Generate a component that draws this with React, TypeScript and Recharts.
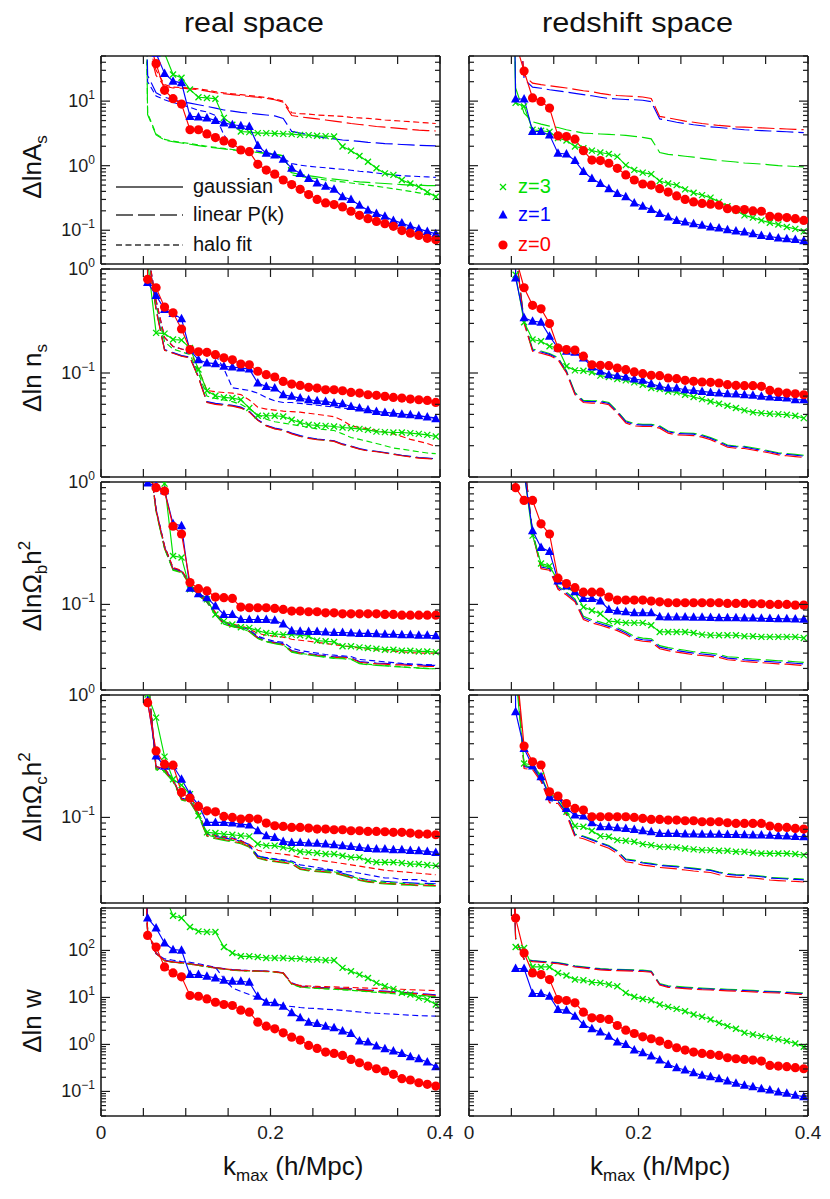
import React from 'react';
import { LineChart, Line, XAxis, YAxis } from 'recharts';

const FONT = '"Liberation Sans", Arial, Helvetica, sans-serif';
const RED = '#ff0000';
const BLUE = '#0000ff';
const GREEN = '#00e000';
const INK = '#1c1c1c';

// k_max grid (h/Mpc); the first entry is where each curve enters from off-scale
const K = [0.052, 0.055, 0.065, 0.075, 0.085, 0.095, 0.105, 0.115, 0.125, 0.135, 0.145, 0.155, 0.165, 0.175, 0.185, 0.195, 0.205, 0.215, 0.225, 0.235, 0.245, 0.255, 0.265, 0.275, 0.285, 0.295, 0.305, 0.315, 0.325, 0.335, 0.345, 0.355, 0.365, 0.375, 0.385, 0.395];

const X_TICKS = [0, 0.05, 0.1, 0.15, 0.2, 0.25, 0.3, 0.35, 0.4];
const X_LABELS = [0, 0.2, 0.4];
const Y_DOMAINS = [[0.03, 50], [0.01, 1], [0.02, 1], [0.02, 1], [0.03, 800]];
const Y_LABELS = [[0.1, 1, 10], [0.1, 1], [0.1, 1], [0.1, 1], [0.1, 1, 10, 100]];

// ---- ΔlnA_s, real space
const asRG0 = [1e4, 100, 38, 14.7, 10.9, 9.0, 3.6, 3.6, 3.1, 2.73, 2.42, 2.23, 1.75, 1.65, 1.05, 0.855, 0.74, 0.6, 0.51, 0.43, 0.357, 0.3, 0.265, 0.25, 0.23, 0.197, 0.17, 0.151, 0.137, 0.126, 0.115, 0.099, 0.09, 0.083, 0.075, 0.071];
const asRG1 = [1e4, 200, 55, 26.8, 20.4, 19.2, 5.8, 5.7, 5.5, 5.0, 4.6, 4.3, 4.15, 4.05, 2.05, 1.56, 1.47, 1.26, 0.91, 0.76, 0.635, 0.54, 0.48, 0.43, 0.33, 0.3, 0.244, 0.204, 0.181, 0.164, 0.142, 0.129, 0.115, 0.105, 0.096, 0.088];
const asRG3 = [1e4, 300, 90, 55, 25.9, 23, 15.1, 11.5, 11.2, 10.9, 5.5, 4.3, 3.39, 3.31, 3.19, 3.19, 3.15, 3.11, 3.08, 3.0, 2.97, 2.9, 2.87, 2.83, 1.98, 1.71, 1.41, 1.15, 0.91, 0.76, 0.72, 0.6, 0.53, 0.47, 0.39, 0.33];
const asRL0 = [1e4, 80, 25, 17, 16, 15.8, 15.5, 15, 14.3, 13.5, 13, 12.6, 12.2, 11.8, 11.5, 11, 10.5, 9.6, 6.0, 5.7, 5.5, 5.3, 5.1, 4.9, 4.7, 4.5, 4.35, 4.2, 4.05, 3.95, 3.85, 3.75, 3.65, 3.55, 3.5, 3.45];
const asRL1 = [1e4, 25, 13.5, 11.5, 10.5, 9.8, 9.3, 8.8, 8.3, 7.8, 7.3, 7.0, 6.7, 6.5, 6.3, 6.1, 5.9, 5.4, 3.4, 3.2, 3.0, 2.85, 2.7, 2.6, 2.5, 2.45, 2.38, 2.3, 2.25, 2.2, 2.17, 2.13, 2.1, 2.07, 2.05, 2.03];
const asRL3 = [1e4, 6.2, 3.0, 2.5, 2.35, 2.25, 2.15, 2.05, 1.95, 1.88, 1.82, 1.76, 1.7, 1.65, 1.6, 1.55, 1.5, 1.42, 0.78, 0.73, 0.7, 0.67, 0.64, 0.62, 0.6, 0.58, 0.56, 0.55, 0.54, 0.53, 0.52, 0.51, 0.5, 0.5, 0.49, 0.49];
const asRH0 = [1e4, 90, 30, 18, 16.5, 16.2, 16, 15.5, 14.8, 14, 13.4, 13, 12.6, 12.2, 11.8, 11.3, 10.8, 10, 6.6, 6.4, 6.3, 6.1, 6.0, 5.9, 5.8, 5.6, 5.5, 5.4, 5.25, 5.1, 5.0, 4.9, 4.8, 4.7, 4.6, 4.5];
const asRH1 = [1e4, 20, 12, 10.5, 9.5, 8.8, 8.0, 7.2, 6.8, 6.0, 3.0, 1.95, 1.85, 1.75, 1.68, 1.6, 1.5, 1.3, 1.08, 1.02, 0.98, 0.95, 0.93, 0.9, 0.88, 0.85, 0.82, 0.8, 0.77, 0.74, 0.72, 0.7, 0.69, 0.68, 0.67, 0.66];
const asRH3 = [1e4, 6.5, 3.1, 2.55, 2.4, 2.3, 2.2, 2.1, 2.0, 1.92, 1.85, 1.78, 1.72, 1.66, 1.61, 1.56, 1.51, 1.43, 0.72, 0.68, 0.65, 0.63, 0.6, 0.58, 0.56, 0.54, 0.52, 0.5, 0.48, 0.46, 0.44, 0.42, 0.4, 0.38, 0.36, 0.34];

// ---- ΔlnA_s, redshift space
const asZG0 = [1e4, 80, 29.2, 11.2, 9.9, 7.8, 2.9, 2.83, 2.57, 1.71, 1.22, 1.2, 1.09, 0.91, 0.72, 0.6, 0.52, 0.5, 0.44, 0.39, 0.34, 0.3, 0.275, 0.26, 0.253, 0.244, 0.216, 0.209, 0.209, 0.199, 0.197, 0.164, 0.16, 0.157, 0.151, 0.142];
const asZG1 = [1e4, 10.8, 10.8, 3.39, 3.39, 3.0, 1.56, 1.52, 1.2, 0.81, 0.635, 0.53, 0.44, 0.37, 0.33, 0.265, 0.235, 0.209, 0.181, 0.16, 0.142, 0.134, 0.126, 0.119, 0.112, 0.108, 0.102, 0.097, 0.094, 0.088, 0.083, 0.08, 0.076, 0.074, 0.072, 0.069];
const asZG3 = [1e4, 9.4, 8.3, 3.6, 3.47, 3.35, 2.67, 2.45, 1.98, 1.86, 1.71, 1.6, 1.52, 1.38, 1.02, 0.86, 0.78, 0.74, 0.58, 0.53, 0.5, 0.43, 0.38, 0.35, 0.32, 0.275, 0.235, 0.204, 0.17, 0.157, 0.142, 0.131, 0.123, 0.112, 0.105, 0.096];
const asZL0 = [1e4, 1e3, 25, 19, 18, 17.3, 16.6, 16, 15.2, 14.5, 14, 13.2, 12.6, 12.2, 12, 11.8, 11.6, 11, 5.8, 5.5, 5.2, 4.9, 4.7, 4.5, 4.35, 4.2, 4.1, 4.0, 3.95, 3.9, 3.85, 3.8, 3.75, 3.7, 3.65, 3.6];
const asZL1 = [1e4, 1e3, 22, 16.5, 15.8, 15, 14.4, 13.8, 13.2, 12.6, 12.1, 11.5, 11, 10.8, 10.6, 10.5, 10.3, 9.8, 5.3, 5.0, 4.7, 4.5, 4.3, 4.15, 4.0, 3.9, 3.8, 3.7, 3.6, 3.55, 3.5, 3.45, 3.4, 3.35, 3.3, 3.25];
const asZL3 = [1e4, 16, 6.5, 4.8, 4.4, 4.1, 3.9, 3.6, 3.4, 3.2, 3.15, 3.1, 3.05, 3.0, 2.95, 2.85, 2.75, 2.6, 1.6, 1.5, 1.45, 1.4, 1.36, 1.3, 1.25, 1.2, 1.17, 1.14, 1.1, 1.08, 1.06, 1.03, 1.0, 0.99, 0.97, 0.96];

// ---- Δln n_s, real space
const nsRG0 = [1e4, 0.795, 0.66, 0.43, 0.379, 0.265, 0.168, 0.16, 0.158, 0.15, 0.14, 0.134, 0.122, 0.12, 0.104, 0.0964, 0.0915, 0.083, 0.0783, 0.076, 0.0728, 0.0717, 0.069, 0.069, 0.0675, 0.0651, 0.0641, 0.0618, 0.061, 0.0596, 0.0582, 0.0574, 0.0561, 0.0553, 0.0545, 0.0521];
const nsRG1 = [1e4, 0.74, 0.557, 0.408, 0.373, 0.332, 0.166, 0.134, 0.125, 0.123, 0.116, 0.114, 0.112, 0.109, 0.08, 0.0743, 0.0717, 0.0618, 0.0596, 0.0574, 0.0553, 0.0541, 0.0533, 0.0514, 0.0506, 0.0477, 0.046, 0.0443, 0.0427, 0.0418, 0.0411, 0.0402, 0.0397, 0.0388, 0.0377, 0.0363];
const nsRG3 = [1e4, 1.2, 0.243, 0.239, 0.21, 0.207, 0.174, 0.108, 0.0675, 0.0604, 0.0582, 0.0574, 0.0553, 0.046, 0.0388, 0.0388, 0.0388, 0.0382, 0.0355, 0.0334, 0.0318, 0.0313, 0.031, 0.0306, 0.0299, 0.0295, 0.029, 0.0284, 0.0273, 0.027, 0.0268, 0.0268, 0.0264, 0.026, 0.0254, 0.0245];
const nsRL0 = [1e4, 1.5, 0.4, 0.165, 0.155, 0.145, 0.14, 0.09, 0.052, 0.05, 0.049, 0.048, 0.046, 0.042, 0.035, 0.031, 0.029, 0.028, 0.026, 0.0245, 0.0235, 0.0228, 0.0225, 0.022, 0.0205, 0.0196, 0.0185, 0.0178, 0.0175, 0.017, 0.0165, 0.016, 0.0156, 0.0152, 0.015, 0.0148];
const nsRL1 = [1e4, 1.5, 0.42, 0.168, 0.157, 0.147, 0.142, 0.092, 0.053, 0.051, 0.05, 0.049, 0.047, 0.043, 0.0355, 0.0315, 0.0295, 0.0285, 0.0265, 0.025, 0.024, 0.0232, 0.0228, 0.0223, 0.0208, 0.0198, 0.0188, 0.018, 0.0177, 0.0172, 0.0167, 0.0162, 0.0158, 0.0154, 0.0152, 0.015];
const nsRL3 = [1e4, 1.5, 0.41, 0.166, 0.156, 0.146, 0.141, 0.091, 0.0525, 0.0505, 0.0495, 0.0485, 0.0465, 0.0425, 0.0352, 0.0312, 0.0292, 0.0282, 0.0262, 0.0247, 0.0237, 0.023, 0.0226, 0.0221, 0.0206, 0.0197, 0.0186, 0.0179, 0.0176, 0.0171, 0.0166, 0.0161, 0.0157, 0.0153, 0.0151, 0.0149];
const nsRH0 = [1e4, 1.5, 0.5, 0.22, 0.18, 0.17, 0.16, 0.11, 0.068, 0.066, 0.065, 0.064, 0.062, 0.055, 0.047, 0.045, 0.044, 0.043, 0.0425, 0.042, 0.041, 0.04, 0.039, 0.038, 0.035, 0.031, 0.03, 0.029, 0.028, 0.027, 0.026, 0.0245, 0.023, 0.022, 0.021, 0.0196];
const nsRH1 = [1e4, 1.5, 0.5, 0.22, 0.18, 0.17, 0.165, 0.16, 0.155, 0.15, 0.11, 0.072, 0.07, 0.068, 0.064, 0.058, 0.054, 0.052, 0.052, 0.051, 0.05, 0.049, 0.048, 0.047, 0.046, 0.045, 0.044, 0.043, 0.042, 0.041, 0.04, 0.0395, 0.039, 0.0385, 0.038, 0.037];
const nsRH3 = [1e4, 1.5, 0.45, 0.2, 0.17, 0.16, 0.15, 0.1, 0.06, 0.057, 0.055, 0.053, 0.05, 0.045, 0.04, 0.036, 0.034, 0.033, 0.032, 0.031, 0.03, 0.029, 0.0285, 0.028, 0.026, 0.024, 0.023, 0.022, 0.021, 0.02, 0.019, 0.0185, 0.018, 0.0175, 0.017, 0.0168];

// ---- Δln n_s, redshift space
const nsZG0 = [1e4, 1.3, 0.66, 0.447, 0.414, 0.299, 0.174, 0.168, 0.166, 0.145, 0.12, 0.1186, 0.1177, 0.1117, 0.1077, 0.1023, 0.0985, 0.0949, 0.0943, 0.0895, 0.0881, 0.085, 0.0831, 0.0819, 0.0813, 0.0801, 0.0772, 0.076, 0.0755, 0.0755, 0.0744, 0.068, 0.0656, 0.0641, 0.0632, 0.0618];
const nsZG1 = [1e4, 0.82, 0.34, 0.315, 0.308, 0.226, 0.174, 0.162, 0.158, 0.1395, 0.114, 0.1037, 0.0964, 0.0943, 0.0915, 0.0875, 0.085, 0.0789, 0.0744, 0.0717, 0.0717, 0.069, 0.068, 0.0665, 0.0651, 0.0641, 0.0632, 0.0627, 0.0618, 0.061, 0.0596, 0.0587, 0.0582, 0.0574, 0.0553, 0.0553];
const nsZG3 = [1e4, 0.88, 0.308, 0.21, 0.202, 0.181, 0.174, 0.116, 0.106, 0.105, 0.1015, 0.0943, 0.0915, 0.0875, 0.085, 0.0813, 0.0772, 0.0717, 0.0701, 0.0665, 0.0651, 0.0618, 0.0587, 0.0561, 0.0533, 0.0506, 0.0484, 0.046, 0.0437, 0.0418, 0.0411, 0.0405, 0.0402, 0.0397, 0.0388, 0.0368];
const nsZL0 = [1e4, 1.5, 0.3, 0.162, 0.155, 0.147, 0.134, 0.1, 0.0618, 0.052, 0.0514, 0.0514, 0.0495, 0.041, 0.033, 0.031, 0.0306, 0.0306, 0.0295, 0.0264, 0.0254, 0.0252, 0.025, 0.0242, 0.0228, 0.0211, 0.0193, 0.0189, 0.0188, 0.0182, 0.0176, 0.017, 0.0163, 0.016, 0.0157, 0.0154];
const nsZL1 = [1e4, 1.5, 0.31, 0.166, 0.159, 0.151, 0.138, 0.103, 0.0635, 0.0535, 0.053, 0.053, 0.051, 0.0422, 0.034, 0.032, 0.0315, 0.0315, 0.0304, 0.0272, 0.0262, 0.026, 0.0258, 0.0249, 0.0235, 0.0217, 0.0199, 0.0195, 0.0194, 0.0187, 0.0181, 0.0175, 0.0168, 0.0165, 0.0162, 0.0159];
const nsZL3 = [1e4, 1.5, 0.32, 0.17, 0.163, 0.154, 0.141, 0.105, 0.065, 0.0546, 0.054, 0.054, 0.052, 0.043, 0.0347, 0.0326, 0.0321, 0.0321, 0.031, 0.0277, 0.0267, 0.0265, 0.0263, 0.0254, 0.024, 0.0222, 0.0203, 0.0198, 0.0197, 0.0191, 0.0185, 0.0178, 0.0171, 0.0168, 0.0165, 0.0162];

// ---- ΔlnΩb h², real space
const obRG0 = [1e4, 1.1, 0.898, 0.843, 0.435, 0.376, 0.151, 0.1345, 0.129, 0.1148, 0.1135, 0.112, 0.0951, 0.0939, 0.0939, 0.0939, 0.0927, 0.091, 0.0882, 0.0882, 0.0871, 0.0871, 0.0854, 0.0854, 0.0838, 0.0838, 0.0838, 0.0838, 0.0838, 0.0828, 0.0828, 0.0817, 0.0817, 0.0817, 0.0817, 0.0817];
const obRG1 = [1e4, 0.98, 0.93, 0.85, 0.455, 0.44, 0.1355, 0.1224, 0.1135, 0.097, 0.0828, 0.0828, 0.0753, 0.0753, 0.0753, 0.0753, 0.0743, 0.0693, 0.061, 0.0605, 0.06, 0.06, 0.0595, 0.059, 0.059, 0.0585, 0.058, 0.058, 0.0575, 0.057, 0.057, 0.0565, 0.0565, 0.056, 0.056, 0.0555];
const obRG3 = [1e4, 2, 1.1, 0.97, 0.249, 0.242, 0.133, 0.1247, 0.1099, 0.0828, 0.073, 0.0685, 0.0651, 0.0643, 0.0611, 0.0585, 0.0574, 0.0567, 0.0567, 0.056, 0.055, 0.0506, 0.05, 0.0494, 0.0455, 0.0455, 0.0446, 0.044, 0.0435, 0.0427, 0.0427, 0.0419, 0.0419, 0.0413, 0.0413, 0.0408];
const obRL0 = [1e4, 2, 0.585, 0.29, 0.194, 0.185, 0.146, 0.1193, 0.105, 0.083, 0.0694, 0.0664, 0.0643, 0.0604, 0.0532, 0.05, 0.0484, 0.047, 0.0414, 0.04, 0.0393, 0.0383, 0.0376, 0.0369, 0.0369, 0.0364, 0.0337, 0.0331, 0.0327, 0.0325, 0.0321, 0.0321, 0.0317, 0.0315, 0.0311, 0.0311];
const obRL1 = [1e4, 2, 0.6, 0.295, 0.196, 0.187, 0.148, 0.121, 0.106, 0.084, 0.0702, 0.067, 0.065, 0.061, 0.054, 0.0505, 0.049, 0.0476, 0.042, 0.0405, 0.0398, 0.0388, 0.038, 0.0374, 0.0373, 0.0368, 0.0341, 0.0336, 0.0332, 0.033, 0.0326, 0.0326, 0.0322, 0.032, 0.0318, 0.0318];
const obRL3 = [1e4, 2, 0.57, 0.285, 0.19, 0.182, 0.144, 0.118, 0.104, 0.082, 0.0688, 0.0658, 0.0637, 0.0598, 0.0526, 0.0494, 0.0478, 0.0464, 0.0408, 0.0394, 0.0387, 0.0377, 0.037, 0.0362, 0.036, 0.0355, 0.0328, 0.0322, 0.0318, 0.0315, 0.031, 0.0308, 0.0304, 0.0302, 0.0299, 0.0298];
const obRH0 = [1e4, 2, 0.59, 0.3, 0.2, 0.19, 0.15, 0.122, 0.108, 0.086, 0.072, 0.069, 0.067, 0.063, 0.058, 0.056, 0.055, 0.054, 0.052, 0.051, 0.05, 0.049, 0.048, 0.047, 0.046, 0.045, 0.044, 0.043, 0.0425, 0.042, 0.0415, 0.041, 0.0405, 0.04, 0.04, 0.04];
const obRH1 = [1e4, 2, 0.6, 0.3, 0.198, 0.188, 0.149, 0.121, 0.107, 0.085, 0.071, 0.068, 0.066, 0.062, 0.055, 0.052, 0.05, 0.049, 0.044, 0.042, 0.041, 0.04, 0.039, 0.0385, 0.038, 0.0375, 0.0355, 0.035, 0.0345, 0.034, 0.0335, 0.033, 0.0327, 0.0324, 0.0322, 0.032];
const obRH3 = [1e4, 2, 0.58, 0.288, 0.192, 0.184, 0.145, 0.119, 0.105, 0.083, 0.069, 0.066, 0.064, 0.06, 0.053, 0.0498, 0.0482, 0.0468, 0.0412, 0.0398, 0.039, 0.038, 0.0373, 0.0366, 0.0364, 0.0358, 0.0331, 0.0325, 0.032, 0.0317, 0.0312, 0.031, 0.0306, 0.0303, 0.03, 0.0298];

// ---- ΔlnΩb h², redshift space
const obZG0 = [1e4, 0.898, 0.707, 0.707, 0.455, 0.376, 0.1637, 0.148, 0.137, 0.126, 0.126, 0.126, 0.1149, 0.1086, 0.1086, 0.1086, 0.1086, 0.1065, 0.105, 0.1032, 0.1032, 0.1032, 0.1032, 0.1032, 0.1032, 0.1032, 0.1019, 0.1019, 0.1019, 0.1013, 0.1013, 0.1, 0.1, 0.1, 0.0987, 0.0987];
const obZG1 = [1e4, 3, 1.2, 0.4, 0.292, 0.271, 0.1555, 0.1415, 0.127, 0.112, 0.112, 0.1065, 0.091, 0.0882, 0.0871, 0.0854, 0.0854, 0.0854, 0.0792, 0.079, 0.079, 0.0788, 0.0786, 0.0785, 0.0783, 0.078, 0.078, 0.0778, 0.0775, 0.0773, 0.077, 0.0768, 0.0765, 0.0763, 0.076, 0.0758];
const obZG3 = [1e4, 3, 1.2, 0.365, 0.216, 0.2066, 0.1555, 0.1388, 0.1247, 0.0951, 0.0893, 0.0838, 0.073, 0.0721, 0.0707, 0.0707, 0.0707, 0.0676, 0.0596, 0.0596, 0.0596, 0.0596, 0.0585, 0.0567, 0.056, 0.056, 0.056, 0.056, 0.055, 0.055, 0.0543, 0.0543, 0.0543, 0.0543, 0.0543, 0.0532];
const obZL0 = [1e4, 3, 1.5, 0.376, 0.196, 0.1905, 0.1328, 0.1193, 0.105, 0.0753, 0.0707, 0.0676, 0.0643, 0.0611, 0.0567, 0.0516, 0.05, 0.0494, 0.0435, 0.0419, 0.0408, 0.0398, 0.0388, 0.0383, 0.0376, 0.0369, 0.0353, 0.0349, 0.0342, 0.0338, 0.0334, 0.0331, 0.0327, 0.0325, 0.0321, 0.0317];
const obZL1 = [1e4, 3, 1.5, 0.385, 0.202, 0.196, 0.137, 0.123, 0.108, 0.0776, 0.0728, 0.0696, 0.0662, 0.0629, 0.0584, 0.0531, 0.0515, 0.0509, 0.0448, 0.0432, 0.042, 0.041, 0.04, 0.0394, 0.0387, 0.038, 0.0364, 0.0359, 0.0352, 0.0348, 0.0344, 0.0341, 0.0337, 0.0335, 0.0331, 0.0327];
const obZL3 = [1e4, 3, 1.5, 0.395, 0.208, 0.202, 0.141, 0.126, 0.111, 0.08, 0.075, 0.0717, 0.0682, 0.0648, 0.0601, 0.0547, 0.053, 0.0524, 0.0461, 0.0444, 0.0432, 0.0422, 0.0411, 0.0406, 0.0399, 0.0391, 0.0374, 0.037, 0.0363, 0.0358, 0.0354, 0.0351, 0.0347, 0.0345, 0.034, 0.0336];

// ---- ΔlnΩc h², real space
const ocRG0 = [1e4, 0.866, 0.349, 0.272, 0.267, 0.16, 0.1438, 0.123, 0.1133, 0.1112, 0.1019, 0.1, 0.0969, 0.0983, 0.0969, 0.0899, 0.0855, 0.0845, 0.0829, 0.0829, 0.0819, 0.0803, 0.0803, 0.0793, 0.0793, 0.0778, 0.0778, 0.0768, 0.0768, 0.0764, 0.0755, 0.0755, 0.0745, 0.0731, 0.0731, 0.0722];
const ocRG1 = [1e4, 0.9, 0.318, 0.262, 0.264, 0.205, 0.155, 0.126, 0.091, 0.091, 0.091, 0.0899, 0.0882, 0.0866, 0.0778, 0.0709, 0.0687, 0.0637, 0.0625, 0.0625, 0.0618, 0.0614, 0.0607, 0.0599, 0.0588, 0.058, 0.0569, 0.0558, 0.0552, 0.0552, 0.0545, 0.0545, 0.0538, 0.0535, 0.0528, 0.0518];
const ocRG3 = [1e4, 1.01, 0.653, 0.314, 0.205, 0.1835, 0.155, 0.1032, 0.0755, 0.0745, 0.0731, 0.0722, 0.0709, 0.07, 0.0607, 0.0588, 0.0588, 0.0569, 0.0552, 0.0525, 0.0518, 0.0512, 0.0502, 0.0502, 0.0487, 0.0472, 0.0472, 0.0443, 0.043, 0.043, 0.043, 0.0424, 0.0416, 0.0416, 0.0409, 0.0404];
const ocRL0 = [1e4, 1.5, 0.25, 0.24, 0.2, 0.141, 0.135, 0.105, 0.071, 0.068, 0.066, 0.064, 0.062, 0.058, 0.047, 0.045, 0.044, 0.043, 0.042, 0.038, 0.037, 0.0365, 0.036, 0.0355, 0.034, 0.0325, 0.031, 0.03, 0.0295, 0.029, 0.0288, 0.0285, 0.0283, 0.028, 0.028, 0.0278];
const ocRL1 = [1e4, 1.5, 0.255, 0.245, 0.205, 0.144, 0.138, 0.107, 0.073, 0.07, 0.068, 0.066, 0.064, 0.06, 0.0485, 0.0465, 0.0455, 0.0445, 0.0435, 0.0392, 0.0382, 0.0376, 0.0371, 0.0366, 0.035, 0.0335, 0.032, 0.031, 0.0305, 0.03, 0.0297, 0.0294, 0.0292, 0.0289, 0.0289, 0.0287];
const ocRL3 = [1e4, 1.5, 0.245, 0.235, 0.196, 0.139, 0.133, 0.103, 0.07, 0.067, 0.065, 0.063, 0.061, 0.057, 0.0465, 0.0445, 0.0435, 0.0425, 0.0415, 0.0376, 0.0366, 0.0361, 0.0356, 0.0351, 0.0336, 0.0321, 0.0306, 0.0296, 0.0291, 0.0286, 0.0284, 0.0281, 0.0279, 0.0277, 0.0276, 0.0275];
const ocRH0 = [1e4, 1.5, 0.26, 0.25, 0.205, 0.145, 0.138, 0.108, 0.074, 0.071, 0.069, 0.067, 0.064, 0.06, 0.054, 0.052, 0.051, 0.05, 0.049, 0.047, 0.046, 0.045, 0.044, 0.043, 0.042, 0.041, 0.04, 0.039, 0.038, 0.037, 0.0365, 0.036, 0.0355, 0.035, 0.0345, 0.034];
const ocRH1 = [1e4, 1.5, 0.26, 0.25, 0.205, 0.145, 0.138, 0.108, 0.075, 0.072, 0.07, 0.068, 0.065, 0.059, 0.048, 0.047, 0.046, 0.045, 0.044, 0.041, 0.04, 0.039, 0.038, 0.037, 0.036, 0.036, 0.035, 0.034, 0.033, 0.032, 0.032, 0.031, 0.031, 0.031, 0.03, 0.03];
const ocRH3 = [1e4, 1.5, 0.25, 0.24, 0.2, 0.142, 0.136, 0.106, 0.072, 0.069, 0.067, 0.065, 0.063, 0.059, 0.048, 0.046, 0.045, 0.044, 0.043, 0.039, 0.038, 0.0372, 0.0366, 0.036, 0.0345, 0.033, 0.0315, 0.0305, 0.03, 0.0295, 0.0292, 0.0289, 0.0287, 0.0285, 0.0284, 0.0283];

// ---- ΔlnΩc h², redshift space
const ocZG0 = [1e4, 2, 0.383, 0.285, 0.268, 0.162, 0.1494, 0.13, 0.1185, 0.1148, 0.1013, 0.1013, 0.1013, 0.1013, 0.1013, 0.1, 0.0981, 0.0963, 0.0963, 0.0951, 0.0951, 0.0939, 0.0939, 0.0922, 0.0922, 0.0922, 0.0905, 0.0893, 0.0893, 0.0893, 0.0893, 0.085, 0.0829, 0.0829, 0.0813, 0.0803];
const ocZG1 = [1e4, 0.731, 0.366, 0.263, 0.215, 0.1475, 0.1457, 0.1185, 0.1045, 0.1025, 0.0905, 0.0839, 0.0839, 0.0823, 0.0813, 0.0798, 0.0778, 0.0764, 0.074, 0.074, 0.074, 0.0731, 0.0731, 0.073, 0.073, 0.0728, 0.0726, 0.0724, 0.0722, 0.072, 0.0718, 0.0715, 0.071, 0.0705, 0.07, 0.0695];
const ocZG3 = [1e4, 1.5, 0.276, 0.268, 0.22, 0.152, 0.1475, 0.1112, 0.085, 0.0839, 0.0778, 0.0704, 0.0695, 0.0653, 0.0645, 0.0633, 0.0605, 0.0594, 0.0575, 0.0575, 0.0569, 0.0558, 0.0548, 0.0541, 0.0541, 0.0534, 0.0534, 0.0524, 0.0524, 0.0514, 0.0508, 0.0508, 0.0508, 0.0508, 0.0502, 0.0492];
const ocZL0 = [1e4, 2, 0.251, 0.245, 0.196, 0.1318, 0.13, 0.105, 0.0695, 0.067, 0.063, 0.0594, 0.056, 0.0508, 0.0434, 0.0425, 0.0408, 0.04, 0.039, 0.0385, 0.038, 0.0372, 0.0365, 0.036, 0.0355, 0.034, 0.033, 0.0325, 0.0323, 0.032, 0.0315, 0.0308, 0.0305, 0.0302, 0.03, 0.0297];
const ocZL1 = [1e4, 2, 0.26, 0.254, 0.203, 0.137, 0.135, 0.109, 0.072, 0.0695, 0.0655, 0.0617, 0.0582, 0.0528, 0.0451, 0.0442, 0.0424, 0.0416, 0.0405, 0.04, 0.0395, 0.0387, 0.038, 0.0374, 0.0369, 0.0354, 0.0343, 0.0338, 0.0336, 0.0333, 0.0328, 0.032, 0.0317, 0.0314, 0.0312, 0.0309];
const ocZL3 = [1e4, 2, 0.264, 0.258, 0.206, 0.139, 0.137, 0.11, 0.073, 0.0705, 0.0665, 0.0625, 0.059, 0.0535, 0.0457, 0.0448, 0.043, 0.0421, 0.041, 0.0405, 0.04, 0.0392, 0.0385, 0.0379, 0.0374, 0.0358, 0.0348, 0.0342, 0.034, 0.0337, 0.0332, 0.0324, 0.0321, 0.0318, 0.0316, 0.0313];

// ---- Δln w, real space
const wRG0 = [1e4, 209, 118, 44.6, 33.2, 27.4, 11, 10.6, 9.3, 7.9, 7.07, 6.73, 5.36, 4.86, 2.98, 2.45, 2.15, 1.77, 1.43, 1.24, 0.952, 0.822, 0.688, 0.644, 0.584, 0.48, 0.408, 0.347, 0.304, 0.272, 0.231, 0.187, 0.175, 0.153, 0.1415, 0.13];
const wRG1 = [1e4, 489, 300, 144, 104, 101, 30.6, 30.6, 28.2, 26, 23.2, 22.1, 22.1, 21, 10.6, 7.9, 7.67, 6.52, 4.7, 3.68, 2.98, 2.79, 2.45, 2.26, 1.92, 1.71, 1.18, 1.12, 0.922, 0.809, 0.722, 0.644, 0.547, 0.496, 0.422, 0.336];
const wRG3 = [1e4, 1e4, 3000, 1500, 548, 489, 315, 255, 247, 247, 118, 88.3, 75, 75, 72.6, 69.2, 69, 69, 67, 67, 63.8, 63.8, 61.7, 61.7, 42.5, 36.1, 30.6, 26, 20.4, 17.3, 15.2, 12.5, 11.5, 9.8, 9, 7.07];
const wRL0 = [1e4, 250, 85, 60, 56, 54, 51, 48, 45, 42, 40, 38, 37, 36.5, 36, 36, 35, 33, 20, 17, 16.5, 16, 15.8, 15.5, 15.2, 15, 14.5, 14, 13.6, 13.2, 12.8, 12.5, 12.2, 11.8, 11.4, 11];
const wRL1 = [1e4, 260, 88, 62, 57, 55, 52, 49, 46, 43, 41, 39, 38, 37.5, 37, 36.5, 35.5, 33.5, 20.5, 17.5, 17, 16.5, 16.2, 15.9, 15.6, 15.3, 14.9, 14.4, 14, 13.6, 13.2, 12.9, 12.6, 12.2, 11.8, 11.4];
const wRL3 = [1e4, 255, 86, 61, 56.5, 54.5, 51.5, 48.5, 45.5, 42.5, 40.5, 38.5, 37.5, 37, 36.5, 36, 35, 33, 19.5, 16.8, 16.2, 15.7, 15.4, 15.1, 14.8, 14.5, 14, 13.5, 13.1, 12.7, 12.3, 12, 11.6, 11.2, 10.8, 10.4];
const wRH0 = [1e4, 250, 86, 61, 57, 55, 52, 49, 46, 43, 41, 39, 38, 37, 36.5, 36, 35, 33, 19.5, 18, 17.5, 17.2, 17, 16.8, 16.5, 16.3, 16, 15.8, 15.6, 15.3, 15.1, 14.9, 14.6, 14.4, 14.2, 14];
const wRH1 = [1e4, 250, 85, 66, 62, 58, 56, 52, 48, 44, 25, 16, 13.5, 11.5, 10, 8.5, 7.5, 6.7, 6.4, 6.1, 5.9, 5.8, 5.6, 5.5, 5.3, 5.1, 4.9, 4.7, 4.6, 4.5, 4.4, 4.3, 4.2, 4.1, 4.05, 4];
const wRH3 = [1e4, 255, 86, 60, 56, 54, 51, 48, 45, 42, 40, 38, 37, 36.5, 36, 35.5, 34.5, 32.5, 19, 16.5, 16, 15.5, 15.2, 14.9, 14.5, 14.2, 13.7, 13.2, 12.8, 12.4, 12, 11.7, 11.3, 10.9, 10.5, 10.2];

// ---- Δln w, redshift space
const wZG0 = [1e4, 489, 88.3, 33.2, 30.6, 24, 9, 8.6, 7.67, 4.86, 3.68, 3.56, 3.4, 2.53, 2.01, 1.71, 1.45, 1.32, 1.18, 1, 0.85, 0.758, 0.688, 0.644, 0.614, 0.584, 0.521, 0.496, 0.48, 0.465, 0.443, 0.358, 0.347, 0.336, 0.32, 0.304];
const wZG1 = [null, 41.1, 41.1, 12.1, 12.1, 10.6, 5.53, 5.36, 4, 2.66, 2.15, 1.83, 1.5, 1.12, 1, 0.758, 0.665, 0.565, 0.465, 0.376, 0.32, 0.285, 0.25, 0.22, 0.206, 0.187, 0.167, 0.149, 0.135, 0.126, 0.1145, 0.107, 0.0973, 0.0912, 0.0827, 0.0774];
const wZG3 = [null, 118, 113, 44.6, 44.6, 44.6, 33.2, 29.2, 24, 23.2, 21, 20.4, 18.8, 17.3, 12.5, 10.3, 9.3, 8.7, 7.07, 6.3, 5.7, 5.1, 4.33, 3.87, 3.4, 2.88, 2.45, 2.15, 1.77, 1.63, 1.5, 1.385, 1.28, 1.18, 1.05, 0.892];
const wZL0 = [1e4, 175, 63, 58, 56, 54, 52, 48.5, 44.5, 42.5, 40.5, 38.7, 37.7, 37.2, 36.7, 36.2, 35.7, 34.3, 18.3, 16.4, 15.9, 15.4, 15, 14.6, 14.4, 14.1, 13.8, 13.6, 13.4, 13.1, 12.8, 12.6, 12.4, 12.1, 11.8, 11.6];
const wZL1 = [1e4, 180, 65, 60, 58, 56, 54, 50, 46, 44, 42, 40, 39, 38.5, 38, 37.5, 37, 35.5, 19, 17, 16.5, 16, 15.6, 15.2, 15, 14.7, 14.4, 14.2, 14, 13.7, 13.4, 13.2, 13, 12.7, 12.4, 12.1];
const wZL3 = [1e4, 185, 66, 61, 59, 57, 55, 51, 47, 45, 43, 41, 40, 39.5, 39, 38.5, 38, 36.5, 19.8, 17.7, 17.2, 16.7, 16.2, 15.8, 15.5, 15.2, 14.9, 14.7, 14.4, 14.1, 13.8, 13.5, 13.3, 13, 12.7, 12.4];

type Vals = (number | null)[];
type Ser = { v: Vals; c: string; kind: 'gauss' | 'lin' | 'halo' };

function curves(g0: Vals, g1: Vals, g3: Vals, l0: Vals, l1: Vals, l3: Vals, h0?: Vals, h1?: Vals, h3?: Vals): Ser[] {
  const out: Ser[] = [
    { v: l3, c: GREEN, kind: 'lin' },
    { v: l1, c: BLUE, kind: 'lin' },
    { v: l0, c: RED, kind: 'lin' },
  ];
  if (h0 && h1 && h3) {
    out.push({ v: h3, c: GREEN, kind: 'halo' }, { v: h1, c: BLUE, kind: 'halo' }, { v: h0, c: RED, kind: 'halo' });
  }
  out.push({ v: g3, c: GREEN, kind: 'gauss' }, { v: g1, c: BLUE, kind: 'gauss' }, { v: g0, c: RED, kind: 'gauss' });
  return out;
}

const PANELS: Ser[][][] = [
  [curves(asRG0, asRG1, asRG3, asRL0, asRL1, asRL3, asRH0, asRH1, asRH3), curves(asZG0, asZG1, asZG3, asZL0, asZL1, asZL3)],
  [curves(nsRG0, nsRG1, nsRG3, nsRL0, nsRL1, nsRL3, nsRH0, nsRH1, nsRH3), curves(nsZG0, nsZG1, nsZG3, nsZL0, nsZL1, nsZL3)],
  [curves(obRG0, obRG1, obRG3, obRL0, obRL1, obRL3, obRH0, obRH1, obRH3), curves(obZG0, obZG1, obZG3, obZL0, obZL1, obZL3)],
  [curves(ocRG0, ocRG1, ocRG3, ocRL0, ocRL1, ocRL3, ocRH0, ocRH1, ocRH3), curves(ocZG0, ocZG1, ocZG3, ocZL0, ocZL1, ocZL3)],
  [curves(wRG0, wRG1, wRG3, wRL0, wRL1, wRL3, wRH0, wRH1, wRH3), curves(wZG0, wZG1, wZG3, wZL0, wZL1, wZL3)],
];

const COL_X = [101, 469];
const ROW_Y = [56, 269, 482, 695, 908];
const PW = 339;
const PH = 208;
const LEFT_W = 70;
const RIGHT_W = 22;
const TOP_H = 20;

const DASH = { gauss: undefined, lin: '17 5', halo: '6 3.5' } as const;

function logTicks(lo: number, hi: number) {
  const out: number[] = [];
  for (let e = Math.floor(Math.log10(lo)); e <= Math.floor(Math.log10(hi)); e++) {
    for (let m = 1; m <= 9; m++) {
      const v = parseFloat((m * Math.pow(10, e)).toPrecision(3));
      if (v >= lo - 1e-12 && v <= hi + 1e-9) out.push(v);
    }
  }
  return out;
}

const isMajor = (v: number) => {
  const l = Math.log10(v);
  return Math.abs(l - Math.round(l)) < 1e-6;
};

function YTick(props: any) {
  const { x, y, payload, side, labels } = props;
  const v = payload.value as number;
  const major = isMajor(v);
  const len = major ? 9 : 5;
  const dx = side === 'left' ? len : -len;
  const show = labels && labels.some((l: number) => Math.abs(l - v) < 1e-9);
  const e = Math.round(Math.log10(v));
  return (
    <g>
      <line x1={x} y1={y} x2={x + dx} y2={y} stroke={INK} strokeWidth={1.2} />
      {show && (
        <text x={x - 6} y={y + 6} textAnchor="end" fontSize={18} fontFamily={FONT} fill={INK}>
          10<tspan fontSize={12} dy={-8}>{e < 0 ? '\u2212' + -e : String(e)}</tspan>
        </text>
      )}
    </g>
  );
}

function XTick(props: any) {
  const { x, y, payload, side, labels } = props;
  const v = payload.value as number;
  const dy = side === 'bottom' ? -8 : 8;
  const show = labels && X_LABELS.some((l) => Math.abs(l - v) < 1e-9);
  return (
    <g>
      <line x1={x} y1={y} x2={x} y2={y + dy} stroke={INK} strokeWidth={1.2} />
      {show && (
        <text x={x} y={y + 23} textAnchor="middle" fontSize={19} fontFamily={FONT} fill={INK}>
          {v === 0 ? '0' : v.toFixed(1)}
        </text>
      )}
    </g>
  );
}

function Marker({ cx, cy, c }: { cx: number; cy: number; c: string }) {
  if (c === RED) return <circle cx={cx} cy={cy} r={4.6} fill={RED} />;
  if (c === BLUE)
    return <polygon points={`${cx},${cy - 5} ${cx - 4.6},${cy + 3.5} ${cx + 4.6},${cy + 3.5}`} fill={BLUE} />;
  return (
    <g stroke={GREEN} strokeWidth={1.3}>
      <line x1={cx - 3} y1={cy - 3} x2={cx + 3} y2={cy + 3} />
      <line x1={cx - 3} y1={cy + 3} x2={cx + 3} y2={cy - 3} />
    </g>
  );
}

function Panel({ row, col }: { row: number; col: number }) {
  const series = PANELS[row][col];
  const [lo, hi] = Y_DOMAINS[row];
  const ticks = logTicks(lo, hi);
  const labels = col === 0 ? Y_LABELS[row] : [];
  const last = row === 4;
  const bottomH = last ? 40 : 10;
  const data = K.map((k, i) => {
    const r: Record<string, number | null> = { k };
    series.forEach((s, j) => {
      r['s' + j] = s.v[i];
    });
    return r;
  });
  const axisLine = { stroke: INK, strokeWidth: 1.6 };
  return (
    <div style={{ position: 'absolute', left: COL_X[col] - LEFT_W, top: ROW_Y[row] - TOP_H }}>
      <LineChart
        width={LEFT_W + PW + RIGHT_W}
        height={TOP_H + PH + bottomH}
        data={data}
        margin={{ top: 0, right: 0, bottom: 0, left: 0 }}
      >
        <XAxis
          xAxisId="b"
          dataKey="k"
          type="number"
          domain={[0, 0.4]}
          allowDataOverflow
          ticks={X_TICKS}
          interval={0}
          tickSize={0}
          tickMargin={0}
          tickLine={false}
          axisLine={axisLine}
          height={bottomH}
          tick={(p: any) => <XTick {...p} side="bottom" labels={last} />}
        />
        <XAxis
          xAxisId="t"
          orientation="top"
          dataKey="k"
          type="number"
          domain={[0, 0.4]}
          allowDataOverflow
          ticks={X_TICKS}
          interval={0}
          tickSize={0}
          tickMargin={0}
          tickLine={false}
          axisLine={axisLine}
          height={TOP_H}
          tick={(p: any) => <XTick {...p} side="top" labels={false} />}
        />
        <YAxis
          yAxisId="l"
          type="number"
          scale="log"
          domain={[lo, hi]}
          allowDataOverflow
          ticks={ticks}
          interval={0}
          tickSize={0}
          tickMargin={0}
          tickLine={false}
          axisLine={axisLine}
          width={LEFT_W}
          tick={(p: any) => <YTick {...p} side="left" labels={labels} />}
        />
        <YAxis
          yAxisId="r"
          orientation="right"
          type="number"
          scale="log"
          domain={[lo, hi]}
          allowDataOverflow
          ticks={ticks}
          interval={0}
          tickSize={0}
          tickMargin={0}
          tickLine={false}
          axisLine={axisLine}
          width={RIGHT_W}
          tick={(p: any) => <YTick {...p} side="right" labels={[]} />}
        />
        {series.map((s, j) => (
          <Line
            key={j}
            xAxisId="b"
            yAxisId="l"
            dataKey={'s' + j}
            type="linear"
            stroke={s.c}
            strokeWidth={1.15}
            strokeDasharray={DASH[s.kind]}
            dot={
              s.kind === 'gauss'
                ? (p: any) =>
                    p.cx == null || p.cy == null || p.value == null ? (
                      <g key={'d' + p.index} />
                    ) : (
                      <Marker key={'d' + p.index} cx={p.cx} cy={p.cy} c={s.c} />
                    )
                : false
            }
            activeDot={false}
            isAnimationActive={false}
            connectNulls={false}
          />
        ))}
      </LineChart>
    </div>
  );
}

const Y_TITLE_Y = [167, 378, 586, 797, 1021];
const Y_TITLES: React.ReactNode[] = [
  <>ΔlnA<tspan fontSize={17} dy={6}>s</tspan></>,
  <>Δln n<tspan fontSize={17} dy={6}>s</tspan></>,
  <>ΔlnΩ<tspan fontSize={17} dy={6}>b</tspan><tspan dy={-6}>h</tspan><tspan fontSize={17} dy={-11}>2</tspan></>,
  <>ΔlnΩ<tspan fontSize={17} dy={6}>c</tspan><tspan dy={-6}>h</tspan><tspan fontSize={17} dy={-11}>2</tspan></>,
  <>Δln w</>,
];

function Labels() {
  return (
    <svg width={830} height={1199} style={{ position: 'absolute', left: 0, top: 0, pointerEvents: 'none' }} fontFamily={FONT}>
      <text x={184} y={32} fontSize={27} fill="#111" textLength={140} lengthAdjust="spacingAndGlyphs">real space</text>
      <text x={542} y={32} fontSize={27} fill="#111" textLength={191} lengthAdjust="spacingAndGlyphs">redshift space</text>
      {Y_TITLES.map((t, i) => (
        <text key={i} transform={`translate(41,${Y_TITLE_Y[i]}) rotate(-90)`} textAnchor="middle" fontSize={26} fill="#111">
          {t}
        </text>
      ))}
      {[223, 590].map((x) => (
        <text key={x} x={x} y={1175} fontSize={26} fill="#111">
          k<tspan fontSize={17} dy={6}>max</tspan><tspan dy={-6}>{'\u00a0(h/Mpc)'}</tspan>
        </text>
      ))}
      {/* line-style legend */}
      <line x1={116} x2={183} y1={187} y2={187} stroke="#333" strokeWidth={1.3} />
      <line x1={116} x2={183} y1={215} y2={215} stroke="#333" strokeWidth={1.3} strokeDasharray={DASH.lin} />
      <line x1={116} x2={183} y1={245} y2={245} stroke="#333" strokeWidth={1.3} strokeDasharray={DASH.halo} />
      <text x={193} y={193} fontSize={20} fill="#111">gaussian</text>
      <text x={193} y={221} fontSize={20} fill="#111">linear P(k)</text>
      <text x={193} y={251} fontSize={20} fill="#111">halo fit</text>
      {/* redshift legend */}
      <Marker cx={503} cy={187} c={GREEN} />
      <Marker cx={503} cy={215} c={BLUE} />
      <Marker cx={503} cy={245} c={RED} />
      <text x={518} y={193} fontSize={20} fill={GREEN}>z=3</text>
      <text x={518} y={221} fontSize={20} fill={BLUE}>z=1</text>
      <text x={518} y={251} fontSize={20} fill={RED}>z=0</text>
    </svg>
  );
}

export default function App() {
  return (
    <div style={{ position: 'absolute', left: 0, top: 0, width: 830, height: 1199, background: '#fff', overflow: 'hidden' }}>
      {ROW_Y.map((_, row) => [0, 1].map((col) => <Panel key={`${row}-${col}`} row={row} col={col} />))}
      <Labels />
    </div>
  );
}
